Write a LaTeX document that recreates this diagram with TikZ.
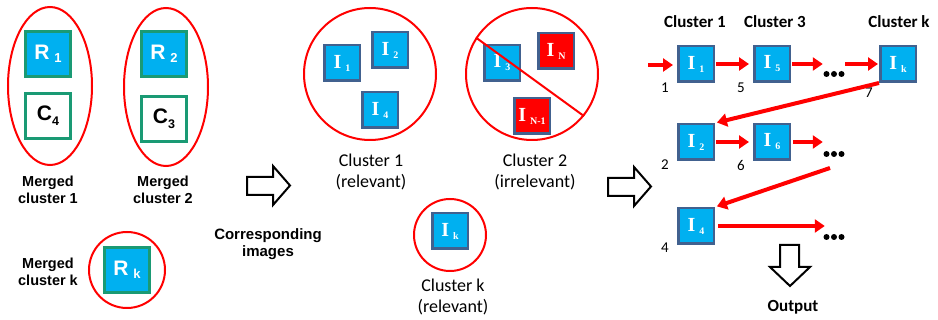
\documentclass[tikz,border=0pt]{standalone}
\usepackage{fontspec}
\setmainfont{Liberation Sans}
\newfontfamily\carl{Carlito}
\newfontfamily\serb{Liberation Serif}
\usetikzlibrary{shapes.geometric,arrows.meta}
\definecolor{cyanbox}{HTML}{00B0F0}
\definecolor{tealb}{HTML}{1A9A74}
\definecolor{slateb}{HTML}{41618F}
\definecolor{redc}{HTML}{FF0000}
\newcommand{\Rlab}[1]{\textcolor{white}{\bfseries\fontsize{21}{21}\selectfont R\hspace{5pt}\raisebox{-3pt}{\fontsize{13}{13}\selectfont #1}}}
\newcommand{\Clab}[1]{{\bfseries\fontsize{21}{21}\selectfont C\raisebox{-5pt}{\fontsize{12.5}{12.5}\selectfont #1}}}
\newcommand{\Ilab}[1]{\textcolor{white}{\serb\bfseries\fontsize{20}{20}\selectfont I\hspace{4pt}\raisebox{-3pt}{\fontsize{10}{10}\selectfont #1}}}
\begin{document}
\begin{tikzpicture}[x=1pt,y=-1pt,
  rbox/.style={draw=tealb,line width=2.5pt,fill=cyanbox,minimum size=45pt,inner sep=0pt},
  cbox/.style={draw=tealb,line width=2.5pt,fill=white,minimum size=45pt,inner sep=0pt},
  ibox/.style={draw=slateb,line width=2.5pt,fill=cyanbox,minimum size=35.5pt,inner sep=0pt},
  irbox/.style={draw=slateb,line width=2.5pt,fill=redc,minimum size=35.5pt,inner sep=0pt},
  ring/.style={draw=redc,line width=2pt,circle,inner sep=0pt},
  oval/.style={draw=redc,line width=2pt,ellipse,inner sep=0pt},
  lbl/.style={align=center,font=\bfseries\fontsize{14.5}{17}\selectfont,inner sep=0pt},
  clbl/.style={align=center,font=\carl\fontsize{18}{21}\selectfont,inner sep=0pt},
  hlbl/.style={font=\carl\bfseries\fontsize{17}{20}\selectfont,inner sep=0pt},
  num/.style={font=\carl\fontsize{15}{15}\selectfont,inner sep=0pt},
  dotsn/.style={minimum width=22pt,minimum height=6pt,inner sep=0pt},
  rarr/.style={draw=redc,line width=4pt,-{Triangle[length=10pt,width=13pt]}},
  hollow/.style={draw=black,line width=2pt,fill=white,line join=miter}]
\useasboundingbox (0,0) rectangle (938,320);

% ---- left: merged clusters ----
\node[oval,minimum width=84pt,minimum height=158pt] (e1) at (50,86) {};
\node[rbox] (r1) at (48,54) {\Rlab{1}};
\node[cbox] (c4) at (48,116) {\Clab{4}};
\node[lbl] (m1) at (48,190) {Merged\\cluster 1};

\node[oval,minimum width=84pt,minimum height=158pt] (e2) at (166,87) {};
\node[rbox] (r2) at (164,54) {\Rlab{2}};
\node[cbox] (c3) at (164,119) {\Clab{3}};
\node[lbl] (m2) at (163,190) {Merged\\cluster 2};

\node[lbl] (mk) at (48,272) {Merged\\cluster k};
\node[ring,minimum size=76pt] (ek) at (127,270) {};
\node[rbox] (rk) at (127,270) {\Rlab{k}};

% ---- hollow arrow 1 ----
\draw[hollow] (247,177) -- (273,177) -- (273,166) -- (290,185.5) -- (273,205) -- (273,195) -- (247,195) -- cycle;
\node[lbl,font=\bfseries\fontsize{15}{17}\selectfont] (ci) at (268,244) {Corresponding\\images};

% ---- middle: clusters ----
\node[ring,minimum size=132pt] (cl1) at (370,74) {};
\node[ibox] (m_i1) at (342,63) {\Ilab{1}};
\node[ibox] (m_i2) at (390,50) {\Ilab{2}};
\node[ibox] (m_i4) at (380,110) {\Ilab{4}};
\node[clbl] (t1) at (371,172) {Cluster 1\\(relevant)};

\node[ring,minimum size=132pt] (cl2) at (532,74) {};
\node[ibox] (m_i3) at (502,63) {\Ilab{3}};
\node[irbox] (m_in) at (556,51) {\Ilab{N}};
\node[irbox] (m_in1) at (532,116) {\Ilab{N-1}};
\draw[draw=redc,line width=2pt] (cl2.147) -- (cl2.321);
\node[clbl] (t2) at (535,172) {Cluster 2\\(irrelevant)};

\node[ring,minimum size=72pt] (clk) at (450,235) {};
\node[ibox] (m_ik) at (450,231) {\Ilab{k}};
\node[clbl] (tk) at (453,297) {Cluster k\\(relevant)};

% ---- hollow arrow 2 ----
\draw[hollow] (608,178) -- (634,178) -- (634,167) -- (651,186.5) -- (634,206) -- (634,196) -- (608,196) -- cycle;

% ---- right: ordering ----
\node[hlbl] (h1) at (695,22) {Cluster 1};
\node[hlbl] (h3) at (775,22) {Cluster 3};
\node[hlbl] (hk) at (899,22) {Cluster k};

\node[ibox] (i1) at (696,64) {\Ilab{1}};
\node[ibox] (i5) at (772,64) {\Ilab{5}};
\node[ibox] (ik) at (898,64) {\Ilab{k}};
\node[dotsn] (d1) at (834,74) {};

\node[ibox] (i2) at (696,142) {\Ilab{2}};
\node[ibox] (i6) at (772,142) {\Ilab{6}};
\node[dotsn] (d2) at (834,154) {};

\node[ibox] (i4) at (696,226) {\Ilab{4}};
\node[dotsn] (d3) at (834,237) {};

\foreach \d in {d1,d2,d3}{
  \fill (\d) circle (3pt);
  \fill ([xshift=-7.5pt]\d.center) circle (3pt);
  \fill ([xshift=7.5pt]\d.center) circle (3pt);
}

\node[num] (n1) at (665,88) {1};
\node[num] (n5) at (741,88) {5};
\node[num] (n7) at (869,93) {7};
\node[num] (n2) at (665,165) {2};
\node[num] (n6) at (741,165) {6};
\node[num] (n4) at (665,248) {4};

\coordinate (start) at (648,65);
\coordinate (c2) at (830,168);

\draw[rarr,shorten >=4pt] (start) -- (i1.west |- start);
\draw[rarr,shorten <=1pt,shorten >=4pt] (i1.east) -- (i5.west);
\draw[rarr,shorten <=1pt,shorten >=0pt] (i5.east) -- (i5.east -| d1.west);
\draw[rarr,shorten <=0pt,shorten >=1pt] (d1.east |- ik.west) -- (ik.west);
\draw[rarr,shorten >=2pt] (ik.south west) -- (i2.north east);

\draw[rarr,shorten <=1pt,shorten >=4pt] (i2.east) -- (i6.west);
\draw[rarr,shorten <=2pt,shorten >=0pt] (i6.east) -- (i6.east -| d2.west);
\draw[rarr,shorten >=2pt] (c2) -- (i4.north east);

\draw[rarr,shorten <=3pt,shorten >=-2pt] (i4.east) -- (i4.east -| d3.west);

% ---- output arrow ----
\draw[hollow] (780,245) -- (799,245) -- (799,267) -- (810,267) -- (790,286) -- (770,267) -- (780,267) -- cycle;
\node[hlbl] (out) at (793,307) {Output};
\end{tikzpicture}
\end{document}
